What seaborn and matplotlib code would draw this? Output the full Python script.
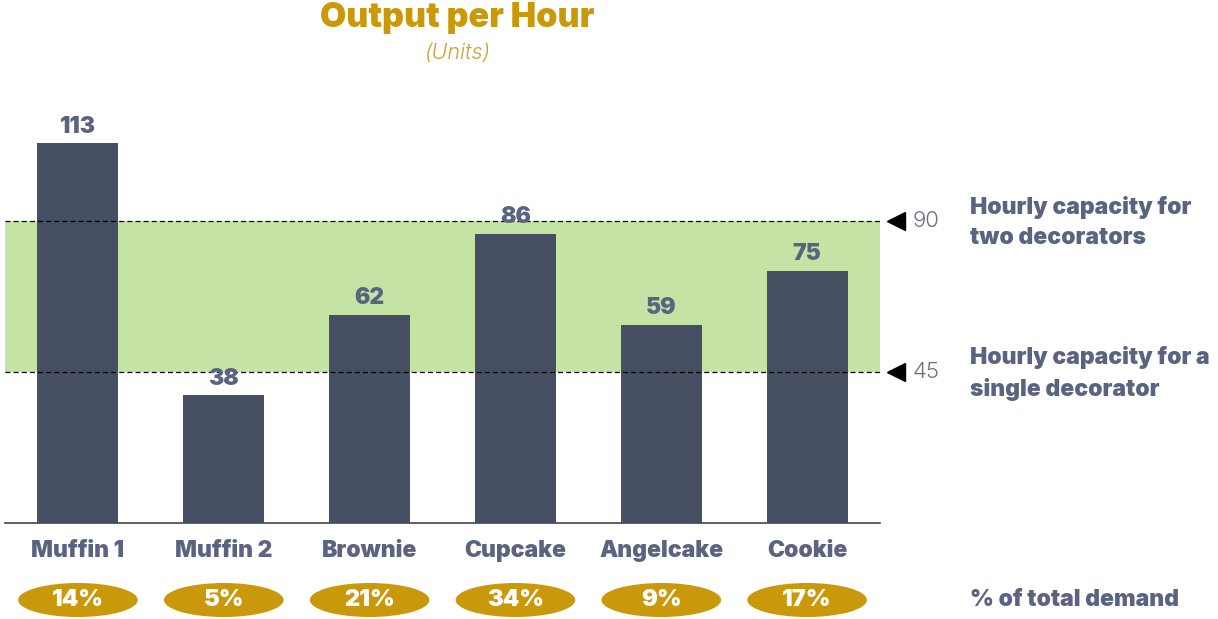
import matplotlib
matplotlib.use("Agg")
import matplotlib.pyplot as plt
import seaborn as sns
import pandas as pd
from matplotlib.patches import Ellipse

categories = ["Muffin 1", "Muffin 2", "Brownie", "Cupcake", "Angelcake", "Cookie"]
output_units = [113, 38, 62, 86, 59, 75]
demand_share = ["14%", "5%", "21%", "34%", "9%", "17%"]
cap_single = 45
cap_two = 90
cap_labels = ["Hourly capacity for a\nsingle decorator", "Hourly capacity for\ntwo decorators"]

BAR = "#474F63"
SLATE = "#5A6480"
GOLD = "#C9980B"
GREEN = "#C5E3A5"
WEIGHT = 900

sns.set_theme(style="white")
plt.rcParams['font.family'] = ['Inter', 'DejaVu Sans']

fig = plt.figure(figsize=(12.18, 6.19), dpi=100)
W, H = 1218, 619
left, right, bottom, top = 5, 880, 523, 120
ax = fig.add_axes([left / W, 1 - bottom / H, (right - left) / W, (bottom - top) / H])

df = pd.DataFrame({"cat": categories, "val": output_units})
sns.barplot(data=df, x="cat", y="val", color=BAR, width=0.555, saturation=1, ax=ax,
            zorder=3, edgecolor="none", linewidth=0)

ax.set_xlim(-0.5, 5.5)
ax.set_ylim(0, (bottom - top) / 3.36)
ax.axhspan(cap_single, cap_two, color=GREEN, zorder=1, lw=0)
for y in (cap_single, cap_two):
    ax.axhline(y, color="black", lw=0.9, ls=(0, (4, 2.5)), zorder=4)

for s in ["top", "right", "left"]:
    ax.spines[s].set_visible(False)
ax.spines["bottom"].set_color("#444444")
ax.spines["bottom"].set_linewidth(1.2)
ax.set_yticks([])
ax.set_xlabel("")
ax.set_ylabel("")
ax.tick_params(axis="x", length=0, pad=12)
for t in ax.get_xticklabels():
    t.set_fontsize(16.5)
    t.set_fontweight(WEIGHT)
    t.set_color(SLATE)

for i, v in enumerate(output_units):
    ax.annotate(str(v), (i, v), xytext=(0, 4), textcoords="offset points",
                ha="center", va="bottom", fontsize=16.5, fontweight=WEIGHT, color=SLATE,
                zorder=5)

xt = ax.get_xaxis_transform()
ey = (bottom - 600) / (bottom - top)
eh = 34 / (bottom - top)
for i, p in enumerate(demand_share):
    e = Ellipse((i, ey), 0.82, eh, transform=xt, facecolor=GOLD, edgecolor="none", clip_on=False)
    ax.add_patch(e)
    ax.text(i, ey, p, transform=xt, ha="center", va="center", fontsize=17,
            fontweight=WEIGHT, color="white")

yt = ax.get_yaxis_transform()
rx = (970 - left) / (right - left)
for y, lab in zip((cap_single, cap_two), cap_labels):
    ax.plot([(896 - left) / (right - left)], [y], marker="<", color="black", ms=13,
            transform=yt, clip_on=False)
    ax.text((913 - left) / (right - left), y, str(y), transform=yt, ha="left", va="center",
            fontsize=16, color="#6B7385", fontweight=300)
    ax.text(rx, y - 0.5, lab, transform=yt, ha="left", va="center",
            fontsize=16.5, fontweight=WEIGHT, color=SLATE, linespacing=1.45)

ax.text(rx, ey, "% of total demand", transform=ax.transAxes, ha="left",
        va="center", fontsize=16.5, fontweight=WEIGHT, color=SLATE)

fig.text(457 / W, 1 - 18 / H, "Output per Hour", ha="center", va="center", fontsize=24.5,
         fontweight=WEIGHT, color=GOLD)
fig.text(457 / W, 1 - 53 / H, "(Units)", ha="center", va="center", fontsize=15.5,
         style="italic", fontweight=300, color="#C7A536")

fig.savefig("out.png", dpi=100)
